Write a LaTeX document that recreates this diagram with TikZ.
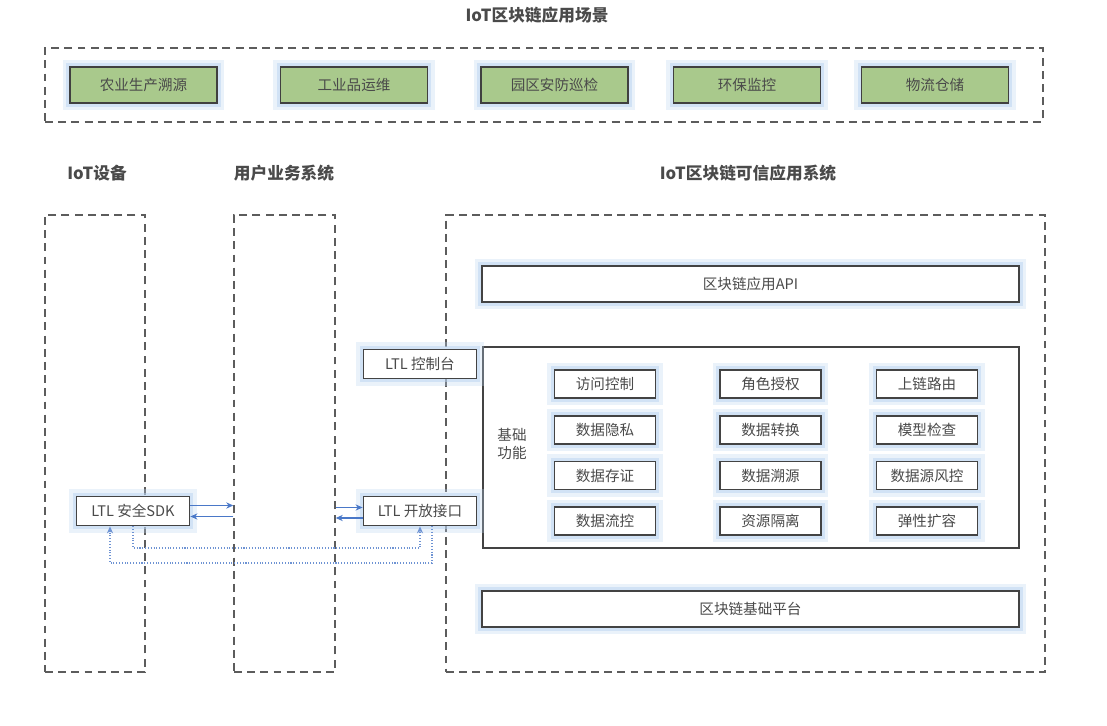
\documentclass[tikz,border=0pt]{standalone}
\usepackage{fontspec}
\setmainfont{Noto Sans CJK SC}
\usepackage{xcolor}
\usetikzlibrary{arrows.meta,positioning}

\definecolor{inkgray}{HTML}{4A4A4A}
\definecolor{leafgreen}{HTML}{A9C98C}
\definecolor{halo}{HTML}{B9D3F0}
\definecolor{linkblue}{HTML}{4A78C8}

\begin{document}
\begin{tikzpicture}[
  x=0.02cm, y=-0.02cm, >={Stealth[length=4pt,width=3.5pt]},
  font=\fontsize{8.3}{10}\selectfont, text=inkgray,
  zone/.style={draw=inkgray!90, dashed, dash pattern=on 4.5pt off 3pt, line width=0.8pt, inner sep=0pt},
  glow/.style={preaction={draw=halo, line width=8pt, opacity=0.3},
    preaction={draw=halo, line width=4.5pt, opacity=0.5}},
  box/.style={draw=inkgray!90!black, line width=1pt, fill=white, inner sep=0pt, glow},
  scene/.style={box, fill=leafgreen, draw=black!75, minimum width=2.94cm, minimum height=0.72cm},
  func/.style={box, minimum width=2.02cm, minimum height=0.56cm},
  layer/.style={box, minimum width=10.74cm, minimum height=0.72cm},
  ltl/.style={box, minimum width=2.26cm, minimum height=0.58cm},
  head/.style={font=\fontsize{9.5}{11}\selectfont\bfseries},
  flow/.style={->, linkblue, line width=0.7pt},
  back/.style={->, linkblue!80, line width=0.6pt, densely dotted},
]
\useasboundingbox (0,0) rectangle (1107,726);

% scenarios
\node[head] (title) at (537,15) {IoT区块链应用场景};
\node[zone, minimum width=19.96cm, minimum height=1.48cm] (scenes) at (544,85) {};
\node[scene] (agri) at (143.5,85) {农业生产溯源};
\node[scene] (indu) at (354,85) {工业品运维};
\node[scene] (park) at (554.5,85) {园区安防巡检};
\node[scene] (envi) at (747,85) {环保监控};
\node[scene] (logi) at (935,85) {物流仓储};

% columns
\node[head] (devhead) at (97,173) {IoT设备};
\node[head] (usrhead) at (284,173) {用户业务系统};
\node[head] (syshead) at (748,173) {IoT区块链可信应用系统};
\node[zone, minimum width=2cm, minimum height=9.14cm] (dev) at (95,443.5) {};
\node[zone, minimum width=2.02cm, minimum height=9.14cm] (usr) at (284.5,443.5) {};
\node[zone, minimum width=11.98cm, minimum height=9.14cm] (sys) at (745.5,443.5) {};

% blockchain system
\node[layer] (api) at (750.5,284) {区块链应用API};
\node[draw=inkgray!90!black, line width=0.9pt, minimum width=10.72cm, minimum height=4.02cm, inner sep=0pt] (base) at (751,447.5) {};
\node[align=center] (basetxt) at (512,444) {基础\\功能};
\node[layer] (chain) at (750.5,609) {区块链基础平台};

\node[func] (acl) at (605,384) {访问控制};
\node[func, below=0.32cm of acl] (priv) {数据隐私};
\node[func, below=0.32cm of priv] (proof) {数据存证};
\node[func, below=0.32cm of proof] (fctl) {数据流控};
\node[func] (role) at (770.5,384) {角色授权};
\node[func, below=0.32cm of role] (conv) {数据转换};
\node[func, below=0.32cm of conv] (trace) {数据溯源};
\node[func, below=0.32cm of trace] (iso) {资源隔离};
\node[func] (route) at (927,384) {上链路由};
\node[func, below=0.32cm of route] (model) {模型检查};
\node[func, below=0.32cm of model] (risk) {数据源风控};
\node[func, below=0.32cm of risk] (scale) {弹性扩容};

% LTL parts
\node[ltl] (console) at (420,364) {LTL 控制台};
\node[ltl] (openapi) at (420,511) {LTL 开放接口};
\node[ltl] (sdk) at (133,511) {LTL 安全SDK};

% links
\draw[flow] ([yshift=0.11cm]sdk.east) -- ([yshift=0.11cm]sdk.east -| usr.west);
\draw[flow] ([yshift=-0.11cm]sdk.east -| usr.west) -- ([yshift=-0.11cm]sdk.east);
\draw[flow] ([yshift=0.07cm]openapi.west -| usr.east) -- ([yshift=0.07cm]openapi.west);
\draw[flow] ([yshift=-0.14cm]openapi.west) -- ([yshift=-0.14cm]openapi.west -| usr.east);
\draw[back] (sdk.south) |- (420,548) -- (openapi.south);
\draw[back] ([xshift=0.24cm]openapi.south) |- (110,563) -- (sdk.south -| 110,0);
\end{tikzpicture}
\end{document}
